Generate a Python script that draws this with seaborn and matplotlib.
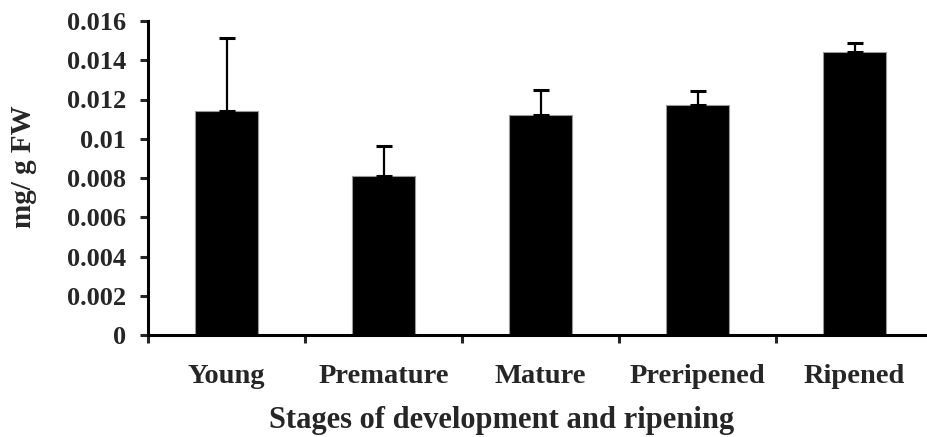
import matplotlib
matplotlib.use("Agg")
import matplotlib.pyplot as plt
import seaborn as sns
import pandas as pd
import numpy as np

stages = ["Young", "Premature", "Mature", "Preripened", "Ripened"]
values = [0.01142, 0.00810, 0.01122, 0.01173, 0.01442]
errors = [0.00372, 0.00152, 0.00128, 0.00070, 0.00046]
yticks = [0, 0.002, 0.004, 0.006, 0.008, 0.01, 0.012, 0.014, 0.016]
ytick_labels = ["0", "0.002", "0.004", "0.006", "0.008", "0.01", "0.012", "0.014", "0.016"]

sns.set_style("white")
plt.rcParams["font.family"] = ["Liberation Serif", "DejaVu Serif"]
plt.rcParams["font.weight"] = "bold"

df = pd.DataFrame({"stage": stages, "value": values})

fig = plt.figure(figsize=(9.28, 4.37), dpi=100)
ax = fig.add_axes([148/928, 1 - 335/437, 785/928, 314/437])

sns.barplot(data=df, x="stage", y="value", color="black", width=0.4,
            edgecolor="#999999", linewidth=0.8, saturation=1, errorbar=None, ax=ax)
x = np.arange(len(stages))
ax.errorbar(x, values, yerr=[np.zeros(len(errors)), errors], fmt="none",
            ecolor="black", elinewidth=1.6, capsize=6, capthick=2.2)

ax.set_xlim(-0.5, len(stages) - 0.5)
ax.set_ylim(0, 0.016)
ax.set_yticks(yticks)
ax.set_yticklabels(ytick_labels, fontsize=19, fontweight="bold")
ax.set_xticks(x)
ax.set_xticklabels(stages, fontsize=20.5, fontweight="bold")
ax.set_xticks(np.arange(-0.5, len(stages), 1.0), minor=True)
ax.tick_params(axis="x", which="major", length=0, pad=21)
ax.tick_params(axis="x", which="minor", length=6, width=2.2, direction="out", bottom=True)
ax.tick_params(axis="y", which="major", length=6, width=2.2, direction="out", left=True, pad=10)

for s in ["top", "right"]:
    ax.spines[s].set_visible(False)
for s in ["left", "bottom"]:
    ax.spines[s].set_linewidth(2.2)
    ax.spines[s].set_color("black")

ax.set_xlabel("Stages of development and ripening", fontsize=22, fontweight="bold")
ax.xaxis.set_label_coords(0.45, -0.225)
ax.xaxis.label.set_verticalalignment("top")
ax.set_ylabel("mg/ g FW", fontsize=21, fontweight="bold")
ax.yaxis.set_label_coords(-0.141, 0.535)

fig.savefig("out.png", dpi=100)
